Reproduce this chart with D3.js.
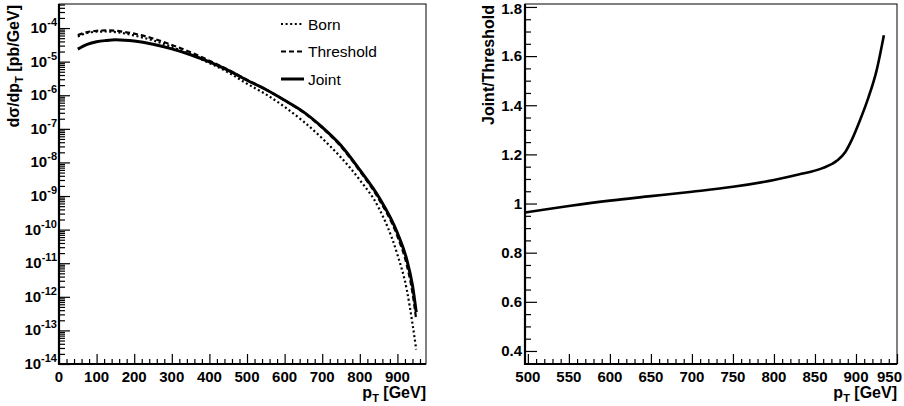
<!DOCTYPE html>
<html>
<head>
<meta charset="utf-8">
<script src="https://cdn.jsdelivr.net/npm/d3@7"></script>
<style>
  body { margin: 0; background: #fff; }
  svg text { font-family: "Liberation Sans", Arial, Helvetica, sans-serif; fill: #000; }
  .bold { font-weight: bold; }
</style>
</head>
<body>
<svg id="chart" width="904" height="406"></svg>
<script>
// pT grid for the spectra (GeV)
const ptGrid = [50, 75, 100, 125, 150, 175, 200, 250, 300, 350, 400, 450, 500, 550,
  600, 650, 700, 750, 800, 850, 900, 925, 940, 950];

// dsigma/dpT [pb/GeV]
const bornVals = [5.6e-5, 7.1e-5, 7.8e-5, 7.9e-5, 7.6e-5, 6.9e-5, 6.0e-5, 4.3e-5, 2.75e-5,
  1.6e-5, 9.1e-6, 4.8e-6, 2.2e-6, 1.07e-6, 4.5e-7, 1.66e-7, 5.2e-8, 1.4e-8, 3.0e-9,
  4.5e-10, 1.8e-11, 1.6e-12, 1.6e-13, 2.7e-14];
const thresholdVals = [6.2e-5, 7.6e-5, 8.3e-5, 8.5e-5, 8.3e-5, 7.6e-5, 6.8e-5, 4.9e-5, 3.15e-5,
  1.9e-5, 1.07e-5, 5.75e-6, 2.9e-6, 1.49e-6, 7.0e-7, 3.07e-7, 1.07e-7, 2.95e-8, 5.5e-9,
  8.3e-10, 6.3e-11, 8.7e-12, 1.32e-12, 2.1e-13];
const jointVals = [2.35e-5, 3.25e-5, 3.9e-5, 4.25e-5, 4.45e-5, 4.35e-5, 4.1e-5, 3.3e-5, 2.4e-5,
  1.6e-5, 9.8e-6, 5.5e-6, 2.8e-6, 1.48e-6, 7.1e-7, 3.2e-7, 1.12e-7, 3.2e-8, 6.0e-9,
  9.5e-10, 7.9e-11, 1.26e-11, 2.2e-12, 3.5e-13];

// Joint/Threshold ratio, right panel
const ratioPt = [496, 525, 550, 600, 650, 700, 750, 800, 830, 860, 877, 887, 895, 905, 915, 925, 934];
const ratioVals = [0.963, 0.978, 0.99, 1.012, 1.03, 1.048, 1.068, 1.096, 1.118, 1.145, 1.175,
  1.21, 1.26, 1.34, 1.43, 1.54, 1.685];

// tick labels
const leftXTicks = [0, 100, 200, 300, 400, 500, 600, 700, 800, 900];
const leftYExps = [-14, -13, -12, -11, -10, -9, -8, -7, -6, -5, -4];
const rightXTicks = [500, 550, 600, 650, 700, 750, 800, 850, 900, 950];
const rightYTicks = [0.4, 0.6, 0.8, 1, 1.2, 1.4, 1.6, 1.8];

const series = [
  { name: "Born", vals: bornVals, dash: "2,2.6", width: 2.2 },
  { name: "Threshold", vals: thresholdVals, dash: "5,3", width: 2.2 },
  { name: "Joint", vals: jointVals, dash: null, width: 3 }
];

const svg = d3.select("#chart");
const fontPx = 15;

// ---------- left panel ----------
const L = { left: 59, right: 426, top: 4, bottom: 364 };
const x1 = d3.scaleLinear().domain([0, 976]).range([L.left, L.right]);
const y1 = d3.scaleLog().domain([1e-14, 5.2e-4]).range([L.bottom, L.top]);

// ---------- right panel ----------
const R = { left: 525, right: 897, top: 4, bottom: 364 };
const x2 = d3.scaleLinear().domain([496.5, 950]).range([R.left, R.right]);
const y2 = d3.scaleLinear().domain([0.347, 1.812]).range([R.bottom, R.top]);

svg.append("defs").selectAll("clipPath")
  .data([["clipL", L], ["clipR", R]])
  .join("clipPath").attr("id", d => d[0])
  .append("rect")
  .attr("x", d => d[1].left).attr("y", d => d[1].top)
  .attr("width", d => d[1].right - d[1].left).attr("height", d => d[1].bottom - d[1].top);

// frame boxes
[L, R].forEach(P => {
  svg.append("rect")
    .attr("x", P.left).attr("y", P.top)
    .attr("width", P.right - P.left).attr("height", P.bottom - P.top)
    .attr("fill", "none").attr("stroke", "#000").attr("stroke-width", 1);
});

// small helper for inward ticks (ROOT style)
function ticks(g, axis, values, size) {
  g.call(axis.tickValues(values).tickSizeInner(-size).tickSizeOuter(0).tickFormat(""));
  g.select(".domain").remove();
  g.selectAll("line").attr("stroke", "#000").attr("stroke-width", 1.2);
}

// left x ticks
const lxMinor = d3.range(0, 971, 20).filter(v => v % 100 !== 0);
ticks(svg.append("g").attr("transform", `translate(0,${L.bottom})`), d3.axisBottom(x1), lxMinor, 5);
ticks(svg.append("g").attr("transform", `translate(0,${L.bottom})`), d3.axisBottom(x1), leftXTicks, 10);
svg.append("g").selectAll("text").data(leftXTicks).join("text")
  .attr("class", "bold").attr("font-size", fontPx)
  .attr("x", d => x1(d)).attr("y", 382).attr("text-anchor", "middle")
  .text(d => d);

// left y ticks (log)
const lyMinor = [];
leftYExps.forEach(e => { for (let k = 2; k <= 9; k++) { const v = k * Math.pow(10, e); if (v <= 5.2e-4) lyMinor.push(v); } });
ticks(svg.append("g").attr("transform", `translate(${L.left},0)`), d3.axisLeft(y1), lyMinor, 6);
ticks(svg.append("g").attr("transform", `translate(${L.left},0)`), d3.axisLeft(y1), leftYExps.map(e => Math.pow(10, e)), 11);
const lyLab = svg.append("g").selectAll("text").data(leftYExps).join("text")
  .attr("class", "bold").attr("font-size", fontPx)
  .attr("x", 57).attr("y", e => y1(Math.pow(10, e)) + 5).attr("text-anchor", "end");
lyLab.append("tspan").text("10");
lyLab.append("tspan").attr("font-size", 11).attr("dy", -7).text(e => e);

// right x ticks
const rxMinor = d3.range(500, 951, 10).filter(v => v % 50 !== 0);
ticks(svg.append("g").attr("transform", `translate(0,${R.bottom})`), d3.axisBottom(x2), rxMinor, 5);
ticks(svg.append("g").attr("transform", `translate(0,${R.bottom})`), d3.axisBottom(x2), rightXTicks, 10);
svg.append("g").selectAll("text").data(rightXTicks).join("text")
  .attr("class", "bold").attr("font-size", fontPx)
  .attr("x", d => d === 950 ? 902 : x2(d)).attr("y", 382)
  .attr("text-anchor", d => d === 950 ? "end" : "middle")
  .text(d => d);

// right y ticks
const ryMinor = d3.range(35, 181, 5).map(v => v / 100).filter(v => Math.round(v * 100) % 20 !== 0);
ticks(svg.append("g").attr("transform", `translate(${R.left},0)`), d3.axisLeft(y2), ryMinor, 6);
ticks(svg.append("g").attr("transform", `translate(${R.left},0)`), d3.axisLeft(y2), rightYTicks, 12);
svg.append("g").selectAll("text").data(rightYTicks).join("text")
  .attr("class", "bold").attr("font-size", fontPx)
  .attr("x", 522).attr("y", d => Math.max(y2(d), 8.5)).attr("dy", "0.36em").attr("text-anchor", "end")
  .text(d => d3.format("~g")(d));

// thicker axis lines on left/bottom
[L, R].forEach(P => {
  svg.append("path")
    .attr("d", `M${P.left},${P.top}V${P.bottom}H${P.right}`)
    .attr("fill", "none").attr("stroke", "#000").attr("stroke-width", 2.2);
});

// axis titles
function xTitle(xEnd) {
  const t = svg.append("text").attr("class", "bold").attr("font-size", 16)
    .attr("x", xEnd).attr("y", 398).attr("text-anchor", "end");
  t.append("tspan").text("p");
  t.append("tspan").attr("font-size", 11).attr("dy", 4).text("T");
  t.append("tspan").attr("dy", -4).text(" [GeV]");
}
xTitle(L.right);
xTitle(R.right);

const yt1 = svg.append("text").attr("class", "bold").attr("font-size", 16)
  .attr("transform", "translate(19,5) rotate(-90)").attr("text-anchor", "end");
yt1.append("tspan").text("d\u03c3/dp");
yt1.append("tspan").attr("font-size", 11).attr("dy", 4).text("T");
yt1.append("tspan").attr("dy", -4).text(" [pb/GeV]");

svg.append("text").attr("class", "bold").attr("font-size", 16)
  .attr("transform", "translate(494,5) rotate(-90)").attr("text-anchor", "end")
  .text("Joint/Threshold");

// curves
const line1 = d3.line().x((d, i) => x1(ptGrid[i])).y(d => y1(d)).curve(d3.curveMonotoneX);
svg.append("g").attr("clip-path", "url(#clipL)")
  .selectAll("path").data(series).join("path")
  .attr("d", d => line1(d.vals))
  .attr("fill", "none").attr("stroke", "#000")
  .attr("stroke-width", d => d.width)
  .attr("stroke-dasharray", d => d.dash);

const line2 = d3.line().x((d, i) => x2(ratioPt[i])).y(d => y2(d)).curve(d3.curveMonotoneX);
svg.append("g").attr("clip-path", "url(#clipR)")
  .append("path").attr("d", line2(ratioVals))
  .attr("fill", "none").attr("stroke", "#000").attr("stroke-width", 2.6);

// legend
const leg = svg.append("g").selectAll("g").data(series).join("g")
  .attr("transform", (d, i) => `translate(281,${24 + i * 27.5})`);
leg.append("line").attr("x1", 0).attr("x2", 23)
  .attr("stroke", "#000").attr("stroke-width", d => d.width)
  .attr("stroke-dasharray", d => d.dash);
leg.append("text").attr("x", 27).attr("dy", "0.36em").attr("font-size", 15.5)
  .text(d => d.name);
</script>
</body>
</html>
